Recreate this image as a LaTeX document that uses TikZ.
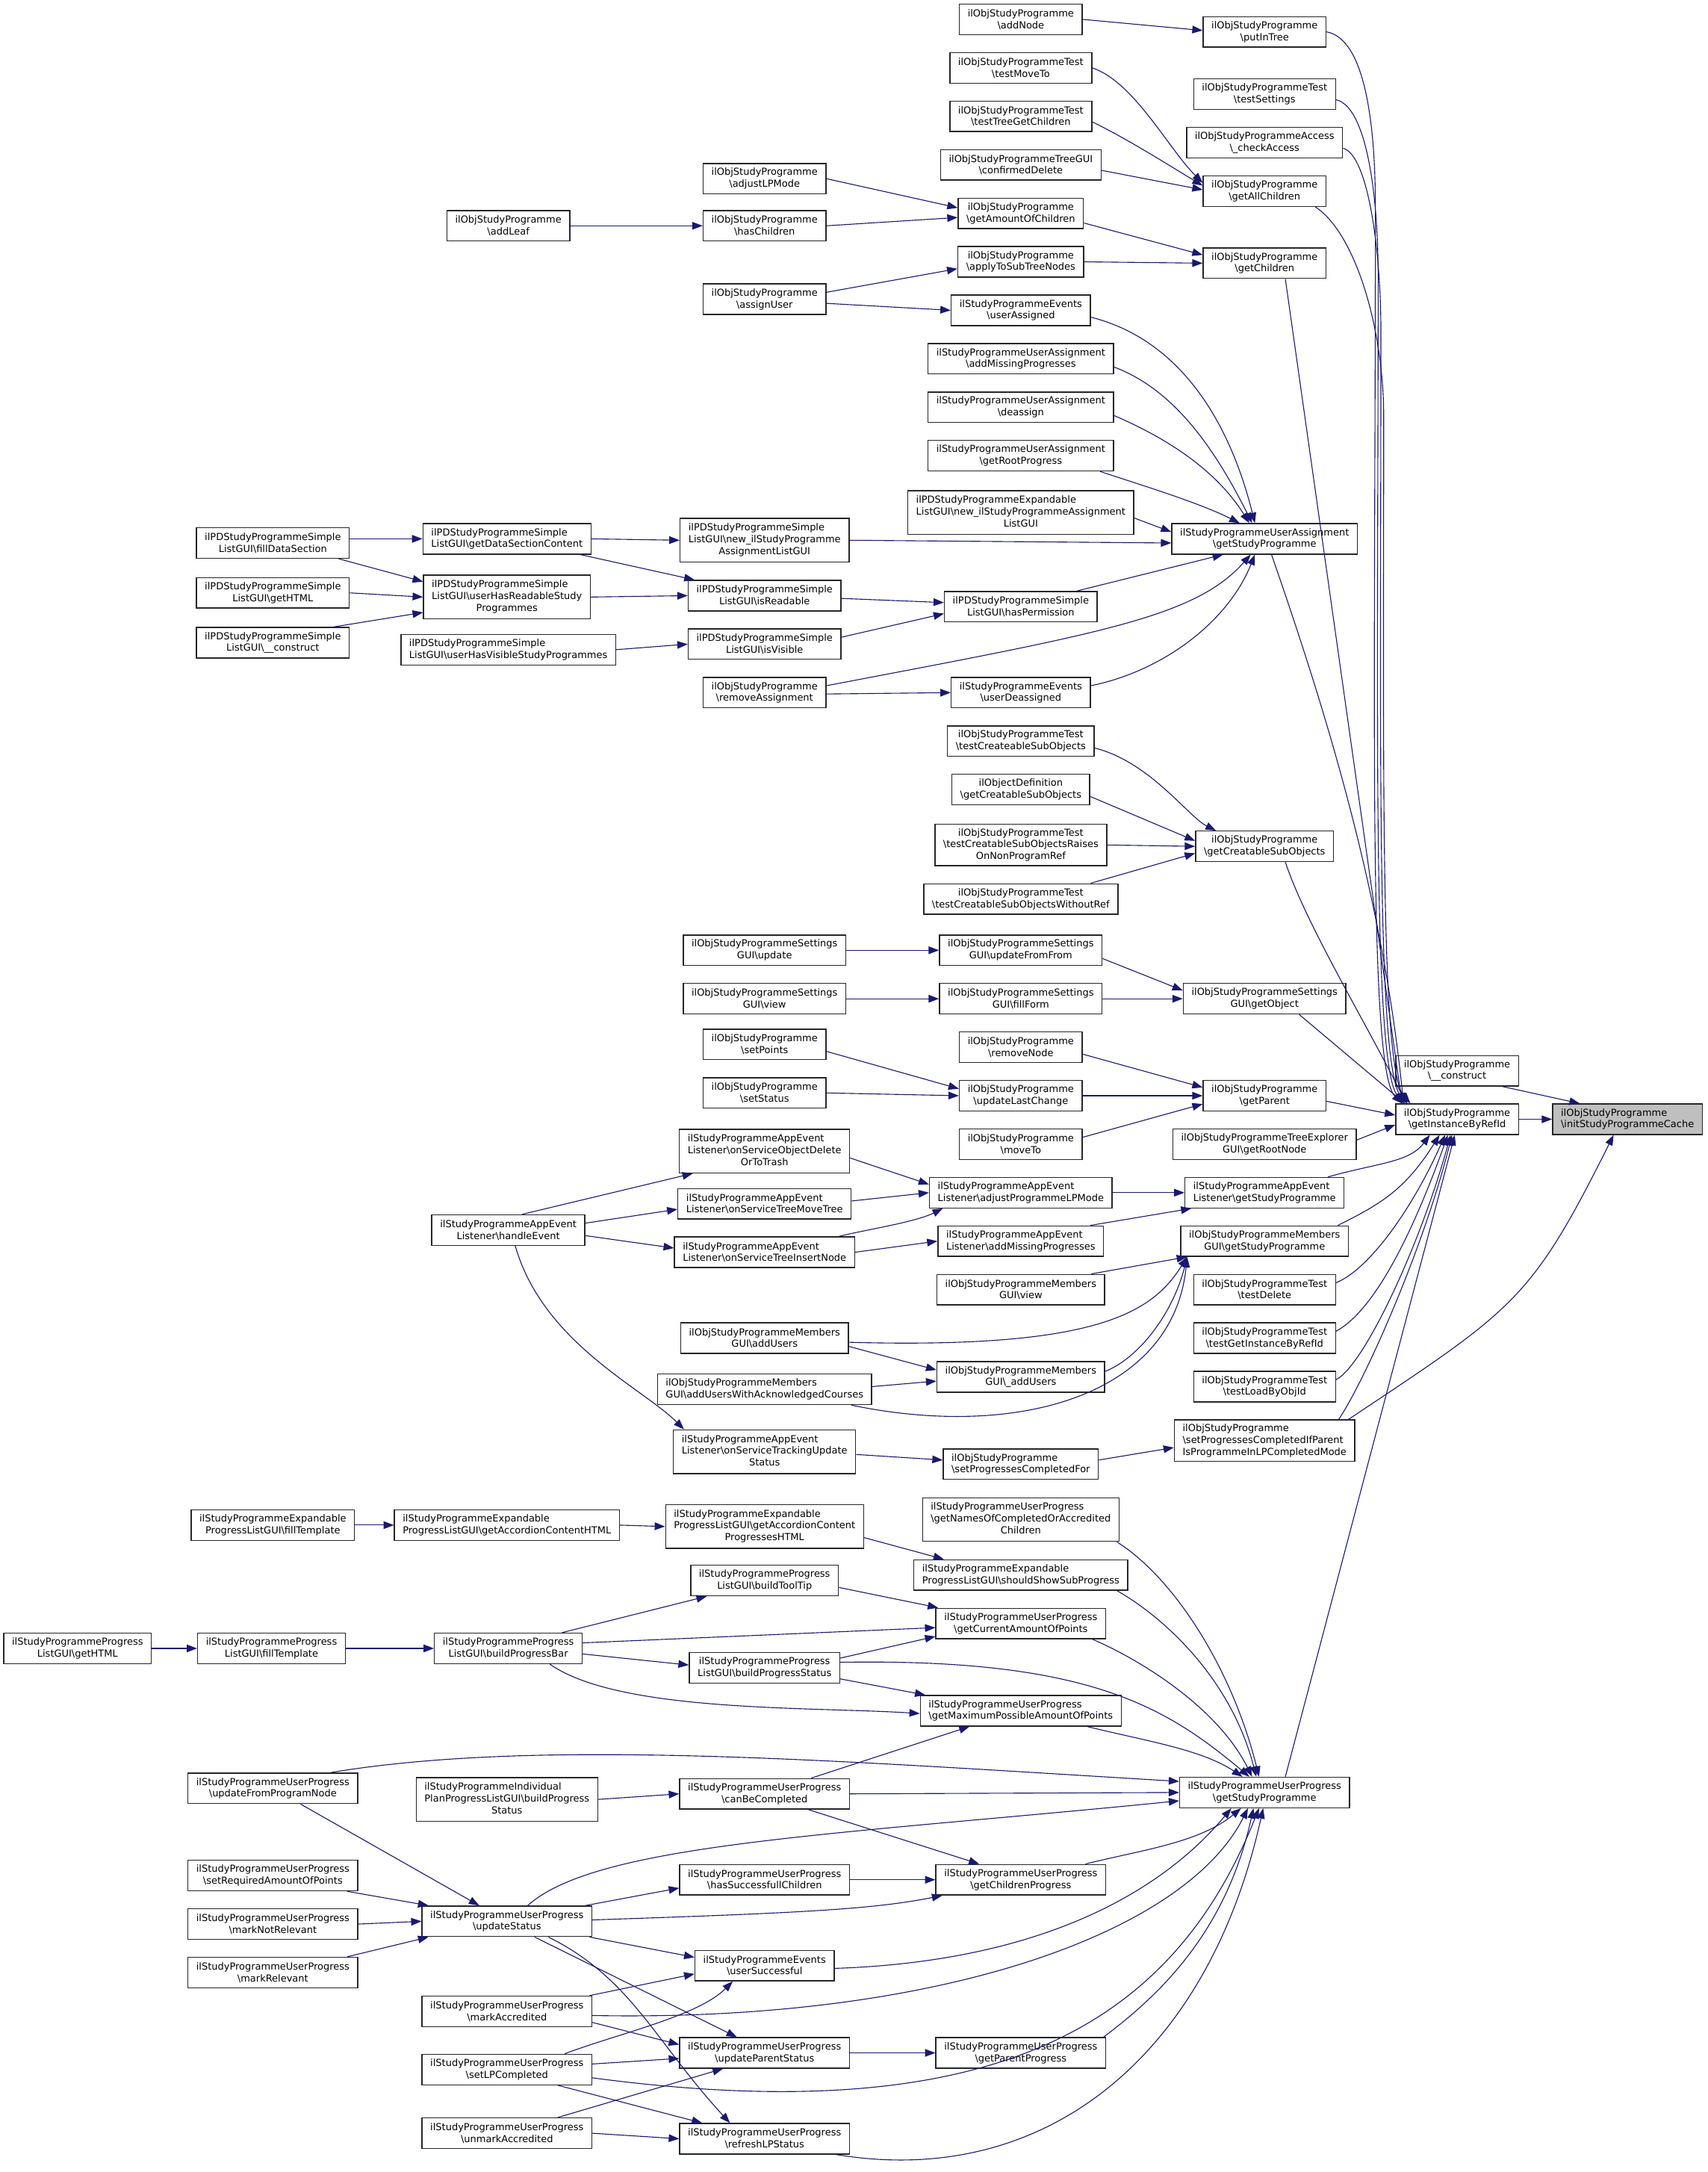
\documentclass[tikz,border=0pt]{standalone}
\usepackage{fontspec}
\setmainfont{DejaVu Sans}
\usepackage{tikz}
\usetikzlibrary{arrows.meta, calc}
\usepackage{xcolor}

\definecolor{edgeblue}{HTML}{191970}
\definecolor{rootgray}{HTML}{BFBFBF}
\newcommand{\graphfont}{\fontsize{7}{8.5}\selectfont}
\newcommand{\bsl}{\textbackslash}
\newcommand{\leftlines}[3]{\begin{tabular}{@{}l@{}}#1\\#2\\\multicolumn{1}{@{}c@{}}{#3}\end{tabular}}

\begin{document}
\begin{tikzpicture}[
    x=1pt, y=-1pt,
    fn/.style={rectangle, draw=black!85, fill=white, line width=0.75pt, font=\graphfont, inner xsep=6pt, inner ysep=3pt, minimum height=22pt, align=center},
    fnl/.style={fn, align=left},
    rootfn/.style={fn, fill=rootgray, align=left},
    arr/.style={-{Triangle[length=7.5pt, width=5.5pt]}, line width=0.6pt, draw=edgeblue}
]
    \useasboundingbox (0,0) rectangle (1233,1568);

    % Cache and its callers
    \node[rootfn] (root) at (1175, 808) {ilObjStudyProgramme\\\bsl initStudyProgrammeCache};
    \node[fn] (gi) at (1052, 808) {ilObjStudyProgramme\\\bsl getInstanceByRefId};
    \node[fn] (cons) at (1052, 773) {ilObjStudyProgramme\\\bsl\_\_construct};

    % Callers of getInstanceByRefId
    \node[fn] (pit) at (913, 23) {ilObjStudyProgramme\\\bsl putInTree};
    \node[fn] (tset) at (913, 68) {ilObjStudyProgrammeTest\\\bsl testSettings};
    \node[fn] (chk) at (913, 103) {ilObjStudyProgrammeAccess\\\bsl\_checkAccess};
    \node[fn] (gac) at (913, 138) {ilObjStudyProgramme\\\bsl getAllChildren};
    \node[fn] (gch) at (913, 190) {ilObjStudyProgramme\\\bsl getChildren};
    \node[fn] (uagsp) at (913, 389) {ilStudyProgrammeUserAssignment\\\bsl getStudyProgramme};
    \node[fn] (gcso) at (913, 611) {ilObjStudyProgramme\\\bsl getCreatableSubObjects};
    \node[fn] (sgo) at (913, 721) {ilObjStudyProgrammeSettings\\GUI\bsl getObject};
    \node[fn] (gpar) at (913, 791) {ilObjStudyProgramme\\\bsl getParent};
    \node[fn] (tegrn) at (913, 826) {ilObjStudyProgrammeTreeExplorer\\GUI\bsl getRootNode};
    \node[fnl] (aegsp) at (913, 861) {ilStudyProgrammeAppEvent\\Listener\bsl getStudyProgramme};
    \node[fn] (mgsp) at (913, 896) {ilObjStudyProgrammeMembers\\GUI\bsl getStudyProgramme};
    \node[fn] (tdel) at (913, 931) {ilObjStudyProgrammeTest\\\bsl testDelete};
    \node[fn] (tgi) at (913, 966) {ilObjStudyProgrammeTest\\\bsl testGetInstanceByRefId};
    \node[fn] (tlo) at (913, 1001) {ilObjStudyProgrammeTest\\\bsl testLoadByObjId};
    \node[fnl] (spcip) at (913, 1040) {ilObjStudyProgramme\\\bsl setProgressesCompletedIfParent\\IsProgrammeInLPCompletedMode};
    \node[fn] (upgsp) at (913, 1294) {ilStudyProgrammeUserProgress\\\bsl getStudyProgramme};

    % Third column
    \node[fn] (addn) at (737, 14) {ilObjStudyProgramme\\\bsl addNode};
    \node[fn] (tmove) at (737, 49) {ilObjStudyProgrammeTest\\\bsl testMoveTo};
    \node[fn] (ttree) at (737, 84) {ilObjStudyProgrammeTest\\\bsl testTreeGetChildren};
    \node[fn] (cdel) at (737, 119) {ilObjStudyProgrammeTreeGUI\\\bsl confirmedDelete};
    \node[fn] (gaoc) at (737, 154) {ilObjStudyProgramme\\\bsl getAmountOfChildren};
    \node[fn] (atst) at (737, 189) {ilObjStudyProgramme\\\bsl applyToSubTreeNodes};
    \node[fn] (uas) at (737, 224) {ilStudyProgrammeEvents\\\bsl userAssigned};
    \node[fn] (amp) at (737, 259) {ilStudyProgrammeUserAssignment\\\bsl addMissingProgresses};
    \node[fn] (deas) at (737, 294) {ilStudyProgrammeUserAssignment\\\bsl deassign};
    \node[fn] (grp) at (737, 329) {ilStudyProgrammeUserAssignment\\\bsl getRootProgress};
    \node[fn] (eln) at (737, 370) {\leftlines{ilPDStudyProgrammeExpandable}{ListGUI\bsl new\_ilStudyProgrammeAssignment}{ListGUI}};
    \node[fn] (hperm) at (737, 438) {ilPDStudyProgrammeSimple\\ListGUI\bsl hasPermission};
    \node[fn] (udeas) at (737, 500) {ilStudyProgrammeEvents\\\bsl userDeassigned};
    \node[fn] (tcso) at (737, 535) {ilObjStudyProgrammeTest\\\bsl testCreateableSubObjects};
    \node[fn] (odgcso) at (737, 570) {ilObjectDefinition\\\bsl getCreatableSubObjects};
    \node[fn] (tcsor) at (737, 610) {ilObjStudyProgrammeTest\\\bsl testCreatableSubObjectsRaises\\OnNonProgramRef};
    \node[fn] (tcsow) at (737, 649) {ilObjStudyProgrammeTest\\\bsl testCreatableSubObjectsWithoutRef};
    \node[fn] (sguff) at (737, 686) {ilObjStudyProgrammeSettings\\GUI\bsl updateFromFrom};
    \node[fn] (sgff) at (737, 721) {ilObjStudyProgrammeSettings\\GUI\bsl fillForm};
    \node[fn] (rmn) at (737, 756) {ilObjStudyProgramme\\\bsl removeNode};
    \node[fn] (ulc) at (737, 791) {ilObjStudyProgramme\\\bsl updateLastChange};
    \node[fn] (mvt) at (737, 826) {ilObjStudyProgramme\\\bsl moveTo};
    \node[fnl] (aplm) at (737, 861) {ilStudyProgrammeAppEvent\\Listener\bsl adjustProgrammeLPMode};
    \node[fnl] (aeamp) at (737, 896) {ilStudyProgrammeAppEvent\\Listener\bsl addMissingProgresses};
    \node[fn] (mgv) at (737, 931) {ilObjStudyProgrammeMembers\\GUI\bsl view};
    \node[fn] (mgau) at (737, 994) {ilObjStudyProgrammeMembers\\GUI\bsl\_addUsers};
    \node[fnl] (spcf) at (737, 1057) {ilObjStudyProgramme\\\bsl setProgressesCompletedFor};
    \node[fn] (gnoc) at (737, 1097) {\leftlines{ilStudyProgrammeUserProgress}{\bsl getNamesOfCompletedOrAccredited}{Children}};
    \node[fnl] (sssp) at (737, 1137) {ilStudyProgrammeExpandable\\ProgressListGUI\bsl shouldShowSubProgress};
    \node[fn] (gcap) at (737, 1172) {ilStudyProgrammeUserProgress\\\bsl getCurrentAmountOfPoints};
    \node[fnl] (gmpap) at (737, 1235) {ilStudyProgrammeUserProgress\\\bsl getMaximumPossibleAmountOfPoints};
    \node[fn] (gchp) at (737, 1357) {ilStudyProgrammeUserProgress\\\bsl getChildrenProgress};
    \node[fn] (gpp) at (737, 1482) {ilStudyProgrammeUserProgress\\\bsl getParentProgress};

    % Second column
    \node[fn] (alpm) at (552, 129) {ilObjStudyProgramme\\\bsl adjustLPMode};
    \node[fn] (hch) at (552, 163) {ilObjStudyProgramme\\\bsl hasChildren};
    \node[fn] (ausr) at (552, 216) {ilObjStudyProgramme\\\bsl assignUser};
    \node[fn] (sln) at (552, 390) {\leftlines{ilPDStudyProgrammeSimple}{ListGUI\bsl new\_ilStudyProgramme}{AssignmentListGUI}};
    \node[fn] (isr) at (552, 430) {ilPDStudyProgrammeSimple\\ListGUI\bsl isReadable};
    \node[fn] (isv) at (552, 465) {ilPDStudyProgrammeSimple\\ListGUI\bsl isVisible};
    \node[fn] (rma) at (552, 500) {ilObjStudyProgramme\\\bsl removeAssignment};
    \node[fn] (sgu) at (552, 686) {ilObjStudyProgrammeSettings\\GUI\bsl update};
    \node[fn] (sgv) at (552, 721) {ilObjStudyProgrammeSettings\\GUI\bsl view};
    \node[fn] (setp) at (552, 754) {ilObjStudyProgramme\\\bsl setPoints};
    \node[fn] (sets) at (552, 789) {ilObjStudyProgramme\\\bsl setStatus};
    \node[fn] (osod) at (552, 831) {\leftlines{ilStudyProgrammeAppEvent}{Listener\bsl onServiceObjectDelete}{OrToTrash}};
    \node[fnl] (ostm) at (552, 869) {ilStudyProgrammeAppEvent\\Listener\bsl onServiceTreeMoveTree};
    \node[fnl] (osti) at (552, 904) {ilStudyProgrammeAppEvent\\Listener\bsl onServiceTreeInsertNode};
    \node[fn] (mgadd) at (552, 966) {ilObjStudyProgrammeMembers\\GUI\bsl addUsers};
    \node[fnl] (mgawac) at (552, 1003) {ilObjStudyProgrammeMembers\\GUI\bsl addUsersWithAcknowledgedCourses};
    \node[fn] (ostu) at (552, 1048) {\leftlines{ilStudyProgrammeAppEvent}{Listener\bsl onServiceTrackingUpdate}{Status}};
    \node[fn] (gacph) at (552, 1102) {\leftlines{ilStudyProgrammeExpandable}{ProgressListGUI\bsl getAccordionContent}{ProgressesHTML}};
    \node[fn] (bttip) at (552, 1141) {ilStudyProgrammeProgress\\ListGUI\bsl buildToolTip};
    \node[fn] (bpst) at (552, 1204) {ilStudyProgrammeProgress\\ListGUI\bsl buildProgressStatus};
    \node[fn] (cbc) at (552, 1295) {ilStudyProgrammeUserProgress\\\bsl canBeCompleted};
    \node[fn] (hsc) at (552, 1357) {ilStudyProgrammeUserProgress\\\bsl hasSuccessfullChildren};
    \node[fn] (usucc) at (552, 1419) {ilStudyProgrammeEvents\\\bsl userSuccessful};
    \node[fn] (ups) at (552, 1482) {ilStudyProgrammeUserProgress\\\bsl updateParentStatus};
    \node[fn] (rlps) at (552, 1544) {ilStudyProgrammeUserProgress\\\bsl refreshLPStatus};

    % First column
    \node[fn] (aleaf) at (367, 163) {ilObjStudyProgramme\\\bsl addLeaf};
    \node[fnl] (gdsc) at (366, 389) {ilPDStudyProgrammeSimple\\ListGUI\bsl getDataSectionContent};
    \node[fn] (uhrs) at (366, 431) {\leftlines{ilPDStudyProgrammeSimple}{ListGUI\bsl userHasReadableStudy}{Programmes}};
    \node[fnl] (uhvs) at (367, 469) {ilPDStudyProgrammeSimple\\ListGUI\bsl userHasVisibleStudyProgrammes};
    \node[fn] (hev) at (367, 888) {ilStudyProgrammeAppEvent\\Listener\bsl handleEvent};
    \node[fnl] (gach) at (366, 1101) {ilStudyProgrammeExpandable\\ProgressListGUI\bsl getAccordionContentHTML};
    \node[fn] (bpbar) at (367, 1190) {ilStudyProgrammeProgress\\ListGUI\bsl buildProgressBar};
    \node[fn] (ipbps) at (366, 1299) {\leftlines{ilStudyProgrammeIndividual}{PlanProgressListGUI\bsl buildProgress}{Status}};
    \node[fn] (ust) at (366, 1387) {ilStudyProgrammeUserProgress\\\bsl updateStatus};
    \node[fn] (macc) at (366, 1452) {ilStudyProgrammeUserProgress\\\bsl markAccredited};
    \node[fn] (slpc) at (366, 1494) {ilStudyProgrammeUserProgress\\\bsl setLPCompleted};
    \node[fn] (umacc) at (366, 1540) {ilStudyProgrammeUserProgress\\\bsl unmarkAccredited};

    % Outer columns
    \node[fn] (fds) at (197, 392) {ilPDStudyProgrammeSimple\\ListGUI\bsl fillDataSection};
    \node[fn] (sghtml) at (197, 428) {ilPDStudyProgrammeSimple\\ListGUI\bsl getHTML};
    \node[fn] (scons) at (197, 464) {ilPDStudyProgrammeSimple\\ListGUI\bsl\_\_construct};
    \node[fn] (eft) at (197, 1101) {ilStudyProgrammeExpandable\\ProgressListGUI\bsl fillTemplate};
    \node[fn] (pft) at (196, 1190) {ilStudyProgrammeProgress\\ListGUI\bsl fillTemplate};
    \node[fn] (ufpn) at (197, 1291) {ilStudyProgrammeUserProgress\\\bsl updateFromProgramNode};
    \node[fn] (sram) at (197, 1354) {ilStudyProgrammeUserProgress\\\bsl setRequiredAmountOfPoints};
    \node[fn] (mnr) at (197, 1389) {ilStudyProgrammeUserProgress\\\bsl markNotRelevant};
    \node[fn] (mrel) at (197, 1424) {ilStudyProgrammeUserProgress\\\bsl markRelevant};
    \node[fn] (pghtml) at (56, 1190) {ilStudyProgrammeProgress\\ListGUI\bsl getHTML};

    % Into the cache
    \draw[arr] (gi.east) -- (root.west);
    \draw[arr] ([xshift=-12pt]cons.south east) -- ([xshift=20pt]root.north west);
    \draw[arr] ([xshift=-5pt]spcip.north east) .. controls +(120,-80) and +(-60,120) .. ([xshift=-10pt]root.south);

    % Into getInstanceByRefId, from above
    \draw[arr] (pit.east) .. controls +(28,5) and +(0,-60) .. (993,150) .. controls +(0,350) and +(-25,-25) .. ([xshift=5pt]gi.north west);
    \draw[arr] ([yshift=-4pt]tset.east) .. controls +(22,5) and +(0,-60) .. (995,200) .. controls +(0,300) and +(-24,-25) .. ([xshift=7pt]gi.north west);
    \draw[arr] ([yshift=-4pt]chk.east) .. controls +(18,5) and +(0,-60) .. (997,240) .. controls +(0,280) and +(-23,-25) .. ([xshift=9pt]gi.north west);
    \draw[arr] ([xshift=-8pt]gac.south east) .. controls +(30,20) and +(0,-60) .. (999,300) .. controls +(0,250) and +(-22,-25) .. ([xshift=11pt]gi.north west);
    \draw[arr] ([xshift=15pt]gch.south) -- ([xshift=5pt]gi.north west);
    \draw[arr] ([xshift=5pt]uagsp.south) .. controls +(40,115) and +(-15,-150) .. ([xshift=6pt]gi.north west);
    \draw[arr] ([xshift=15pt]gcso.south) .. controls +(15,45) and +(-30,-60) .. ([xshift=8pt]gi.north west);
    \draw[arr] ([xshift=25pt]sgo.south) -- ([xshift=7pt]gi.north west);

    % Into getInstanceByRefId, from the left and below
    \draw[arr] ([yshift=-4pt]gpar.east) -- ([yshift=3pt]gi.west);
    \draw[arr] ([yshift=3pt]tegrn.east) -- ([yshift=-4pt]gi.west);
    \draw[arr] ([xshift=-12pt]aegsp.north east) .. controls +(35,-10) and +(-15,20) .. ([xshift=25pt]gi.south west);
    \draw[arr] ([xshift=-8pt]mgsp.north east) .. controls +(30,-15) and +(-25,40) .. ([xshift=32pt]gi.south west);
    \draw[arr] ([yshift=5pt]tdel.east) .. controls +(25,-10) and +(-22,50) .. ([xshift=36pt]gi.south west);
    \draw[arr] ([yshift=5pt]tgi.east) .. controls +(28,-15) and +(-25,70) .. ([xshift=38pt]gi.south west);
    \draw[arr] ([yshift=5pt]tlo.east) .. controls +(20,-10) and +(-22,80) .. ([xshift=40pt]gi.south west);
    \draw[arr] ([xshift=-12pt]spcip.north east) .. controls +(20,-30) and +(-20,80) .. ([xshift=41pt]gi.south west);
    \draw[arr] ([xshift=15pt]upgsp.north) -- ([xshift=43pt]gi.south west);

    % Tree functions
    \draw[arr] (addn.east) -- ([yshift=1pt]pit.west);
    \draw[arr] (tmove.east) .. controls +(30,10) and +(-25,-25) .. ([yshift=6pt]gac.west);
    \draw[arr] ([yshift=-4pt]ttree.east) .. controls +(25,12) and +(-20,-12) .. ([yshift=4pt]gac.west);
    \draw[arr] ([yshift=-4pt]cdel.east) -- ([yshift=1pt]gac.west);
    \draw[arr] (alpm.east) -- ([yshift=4pt]gaoc.west);
    \draw[arr] (hch.east) -- ([yshift=-3pt]gaoc.west);
    \draw[arr] (aleaf.east) -- (hch.west);
    \draw[arr] ([yshift=-7pt]gaoc.east) -- ([yshift=6pt]gch.west);
    \draw[arr] (atst.east) -- (gch.west);
    \draw[arr] ([yshift=5pt]ausr.east) -- ([yshift=-5pt]atst.west);
    \draw[arr] ([yshift=-3pt]ausr.east) -- (uas.west);

    % User assignment
    \draw[arr] ([yshift=-5pt]uas.east) .. controls +(60,15) and +(-20,-80) .. ([xshift=-7pt]uagsp.north);
    \draw[arr] ([yshift=-6pt]amp.east) .. controls +(40,15) and +(-30,-60) .. ([xshift=-9pt]uagsp.north);
    \draw[arr] ([yshift=-6pt]deas.east) .. controls +(35,15) and +(-25,-40) .. ([xshift=-11pt]uagsp.north);
    \draw[arr] ([xshift=-10pt]grp.south east) .. controls +(30,10) and +(-30,-15) .. ([xshift=-18pt]uagsp.north);
    \draw[arr] ([yshift=-4pt]eln.east) -- ([yshift=5pt]uagsp.west);
    \draw[arr] (sln.east) -- ([yshift=-3pt]uagsp.west);
    \draw[arr] ([xshift=-15pt]hperm.north east) -- ([xshift=-30pt]uagsp.south);
    \draw[arr] ([yshift=5pt]rma.east) .. controls +(200,-38) and +(-40,45) .. ([xshift=-10pt]uagsp.south);
    \draw[arr] ([yshift=5pt]udeas.east) .. controls +(50,-10) and +(-20,50) .. ([xshift=-7pt]uagsp.south);
    \draw[arr] ([yshift=-1pt]rma.east) -- (udeas.west);

    % Simple list GUI
    \draw[arr] ([yshift=3pt]fds.east) -- (gdsc.west);
    \draw[arr] ([xshift=-8pt]fds.south east) -- ([yshift=-5pt]uhrs.north west);
    \draw[arr] (sghtml.east) -- (uhrs.west);
    \draw[arr] ([xshift=-12pt]scons.north east) -- ([yshift=5pt]uhrs.south west);
    \draw[arr] (gdsc.east) -- (sln.west);
    \draw[arr] ([xshift=-8pt]gdsc.south east) -- ([xshift=5pt]isr.north west);
    \draw[arr] (uhrs.east) -- (isr.west);
    \draw[arr] (uhvs.east) -- (isv.west);
    \draw[arr] ([yshift=-2pt]isr.east) -- ([yshift=3pt]hperm.west);
    \draw[arr] ([yshift=5pt]isv.east) -- ([yshift=-5pt]hperm.west);

    % Creatable sub objects
    \draw[arr] ([yshift=-5pt]tcso.east) .. controls +(40,10) and +(-20,-10) .. ([xshift=15pt]gcso.north west);
    \draw[arr] ([yshift=-5pt]odgcso.east) -- ([yshift=4pt]gcso.west);
    \draw[arr] (tcsor.east) -- (gcso.west);
    \draw[arr] ([xshift=-20pt]tcsow.north east) -- ([yshift=-5pt]gcso.west);

    % Settings GUI
    \draw[arr] (sgu.east) -- (sguff.west);
    \draw[arr] (sgv.east) -- (sgff.west);
    \draw[arr] ([yshift=-6pt]sguff.east) -- ([yshift=6pt]sgo.west);
    \draw[arr] (sgff.east) -- (sgo.west);

    % Parent
    \draw[arr] ([yshift=-5pt]setp.east) -- ([yshift=5pt]ulc.west);
    \draw[arr] (sets.east) -- (ulc.west);
    \draw[arr] ([yshift=-5pt]rmn.east) -- ([yshift=6pt]gpar.west);
    \draw[arr] (ulc.east) -- (gpar.west);
    \draw[arr] ([yshift=5pt]mvt.east) -- ([yshift=-6pt]gpar.west);

    % App event listener
    \draw[arr] ([xshift=10pt]hev.north) -- ([xshift=10pt]osod.south west);
    \draw[arr] ([yshift=5pt]hev.east) -- ([yshift=-4pt]ostm.west);
    \draw[arr] ([yshift=-4pt]hev.east) -- ([yshift=3pt]osti.west);
    \draw[arr] ([xshift=5pt]hev.south) .. controls +(20,70) and +(-30,-30) .. ([xshift=8pt]ostu.north west);
    \draw[arr] ([yshift=-5pt]osod.east) -- ([yshift=6pt]aplm.west);
    \draw[arr] ([yshift=2pt]ostm.east) -- (aplm.west);
    \draw[arr] ([xshift=-12pt]osti.north east) .. controls +(20,-5) and +(-20,10) .. ([xshift=10pt]aplm.south west);
    \draw[arr] (osti.east) -- (aeamp.west);
    \draw[arr] (aplm.east) -- (aegsp.west);
    \draw[arr] ([xshift=-10pt]aeamp.north east) -- ([xshift=5pt]aegsp.south west);

    % Members GUI
    \draw[arr] ([xshift=-10pt]mgv.north east) -- ([xshift=5pt]mgsp.south west);
    \draw[arr] ([yshift=-3pt]mgadd.east) .. controls +(180,5) and +(-25,40) .. ([xshift=5pt]mgsp.south west);
    \draw[arr] ([yshift=-6pt]mgadd.east) -- ([yshift=5pt]mgau.west);
    \draw[arr] ([yshift=2pt]mgawac.east) -- ([yshift=-3pt]mgau.west);
    \draw[arr] ([xshift=-15pt]mgawac.south east) .. controls +(120,25) and +(-10,100) .. ([xshift=5pt]mgsp.south west);
    \draw[arr] ([yshift=4pt]mgau.east) .. controls +(25,-10) and +(-10,40) .. ([xshift=5pt]mgsp.south west);

    % Completed for
    \draw[arr] ([yshift=-2pt]ostu.east) -- ([yshift=3pt]spcf.west);
    \draw[arr] ([yshift=3pt]spcf.east) -- ([yshift=-5pt]spcip.west);

    % Progress list GUIs
    \draw[arr] (eft.east) -- (gach.west);
    \draw[arr] (gach.east) -- (gacph.west);
    \draw[arr] ([yshift=-8pt]gacph.east) -- ([xshift=22pt]sssp.north west);
    \draw[arr] (pghtml.east) -- (pft.west);
    \draw[arr] (pft.east) -- (bpbar.west);
    \draw[arr] ([xshift=-15pt]bpbar.north east) -- ([xshift=12pt]bttip.south west);
    \draw[arr] ([yshift=4pt]bpbar.east) -- ([yshift=-3pt]gcap.west);
    \draw[arr] ([yshift=-4pt]bpbar.east) -- ([yshift=2pt]bpst.west);
    \draw[arr] ([xshift=30pt]bpbar.south) .. controls +(50,35) and +(-80,-5) .. ([yshift=-2pt]gmpap.west);
    \draw[arr] ([yshift=-5pt]bttip.east) -- ([xshift=2pt]gcap.north west);
    \draw[arr] ([yshift=7pt]bpst.east) -- ([yshift=2pt]gcap.south west);
    \draw[arr] ([yshift=-8pt]bpst.east) -- ([xshift=4pt]gmpap.north west);

    % Into the user progress getStudyProgramme
    \draw[arr] ([xshift=-2pt]gnoc.south east) .. controls +(40,25) and +(-20,-80) .. ([xshift=-4pt]upgsp.north);
    \draw[arr] ([xshift=-8pt]sssp.south east) .. controls +(35,20) and +(-18,-70) .. ([xshift=-6pt]upgsp.north);
    \draw[arr] ([xshift=-10pt]gcap.south east) .. controls +(35,15) and +(-25,-50) .. ([xshift=-9pt]upgsp.north);
    \draw[arr] ([yshift=4pt]bpst.east) .. controls +(180,-3) and +(-60,-50) .. ([xshift=-11pt]upgsp.north);
    \draw[arr] ([xshift=-25pt]gmpap.south east) .. controls +(40,10) and +(-30,-20) .. ([xshift=-16pt]upgsp.north);
    \draw[arr] ([xshift=-20pt]ufpn.north east) .. controls +(150,-25) and +(-250,-15) .. ([yshift=8pt]upgsp.west);
    \draw[arr] (cbc.east) -- (upgsp.west);
    \draw[arr] ([xshift=15pt]ust.north) .. controls +(50,-45) and +(-250,25) .. ([yshift=-6pt]upgsp.west);
    \draw[arr] ([xshift=-15pt]gchp.north east) .. controls +(40,-10) and +(-30,25) .. ([xshift=-17pt]upgsp.south);
    \draw[arr] ([yshift=-2pt]usucc.east) .. controls +(150,-5) and +(-50,60) .. ([xshift=-24pt]upgsp.south);
    \draw[arr] ([yshift=-3pt]macc.east) .. controls +(250,5) and +(-45,90) .. ([xshift=-12pt]upgsp.south);
    \draw[arr] ([xshift=-2pt]gpp.north east) .. controls +(40,-30) and +(-20,90) .. ([xshift=-8pt]upgsp.south);
    \draw[arr] ([yshift=-6pt]slpc.east) .. controls +(300,40) and +(-60,150) .. ([xshift=-4pt]upgsp.south);
    \draw[arr] ([xshift=-10pt]rlps.south east) .. controls +(150,25) and +(-40,180) .. ([xshift=-1pt]upgsp.south);

    % User progress updates
    \draw[arr] ([xshift=20pt]ufpn.south) -- ([xshift=-20pt]ust.north);
    \draw[arr] ([xshift=-8pt]sram.south east) -- ([xshift=5pt]ust.north west);
    \draw[arr] (mnr.east) -- (ust.west);
    \draw[arr] ([xshift=-8pt]mrel.north east) -- ([xshift=5pt]ust.south west);
    \draw[arr] (ipbps.east) -- (cbc.west);
    \draw[arr] ([xshift=-28pt]cbc.north east) -- ([xshift=-37pt]gmpap.south);
    \draw[arr] ([xshift=-30pt]cbc.south east) -- ([xshift=-30pt]gchp.north);
    \draw[arr] ([xshift=-5pt]ust.north east) -- ([yshift=-6pt]hsc.west);
    \draw[arr] ([yshift=1pt]ust.east) .. controls +(150,-5) and +(-50,10) .. ([xshift=5pt]gchp.south west);
    \draw[arr] ([xshift=-2pt]ust.south east) -- ([yshift=6pt]usucc.west);
    \draw[arr] ([xshift=20pt]ust.south) -- ([xshift=-20pt]ups.north);
    \draw[arr] ([xshift=30pt]ust.south) .. controls +(60,30) and +(-55,-60) .. ([xshift=-25pt]rlps.north);
    \draw[arr] (hsc.east) -- (gchp.west);
    \draw[arr] ([xshift=-2pt]macc.north east) -- ([yshift=-6pt]usucc.west);
    \draw[arr] ([yshift=-8pt]macc.east) -- ([yshift=6pt]ups.west);
    \draw[arr] ([xshift=-20pt]slpc.north east) .. controls +(40,-15) and +(-25,25) .. ([xshift=-23pt]usucc.south);
    \draw[arr] ([yshift=4pt]slpc.east) -- ([yshift=-4pt]ups.west);
    \draw[arr] ([xshift=-25pt]slpc.south east) -- ([xshift=-45pt]rlps.north);
    \draw[arr] ([xshift=-25pt]umacc.north east) -- ([xshift=-30pt]ups.south);
    \draw[arr] (umacc.east) -- (rlps.west);
    \draw[arr] (ups.east) -- (gpp.west);

\end{tikzpicture}
\end{document}
